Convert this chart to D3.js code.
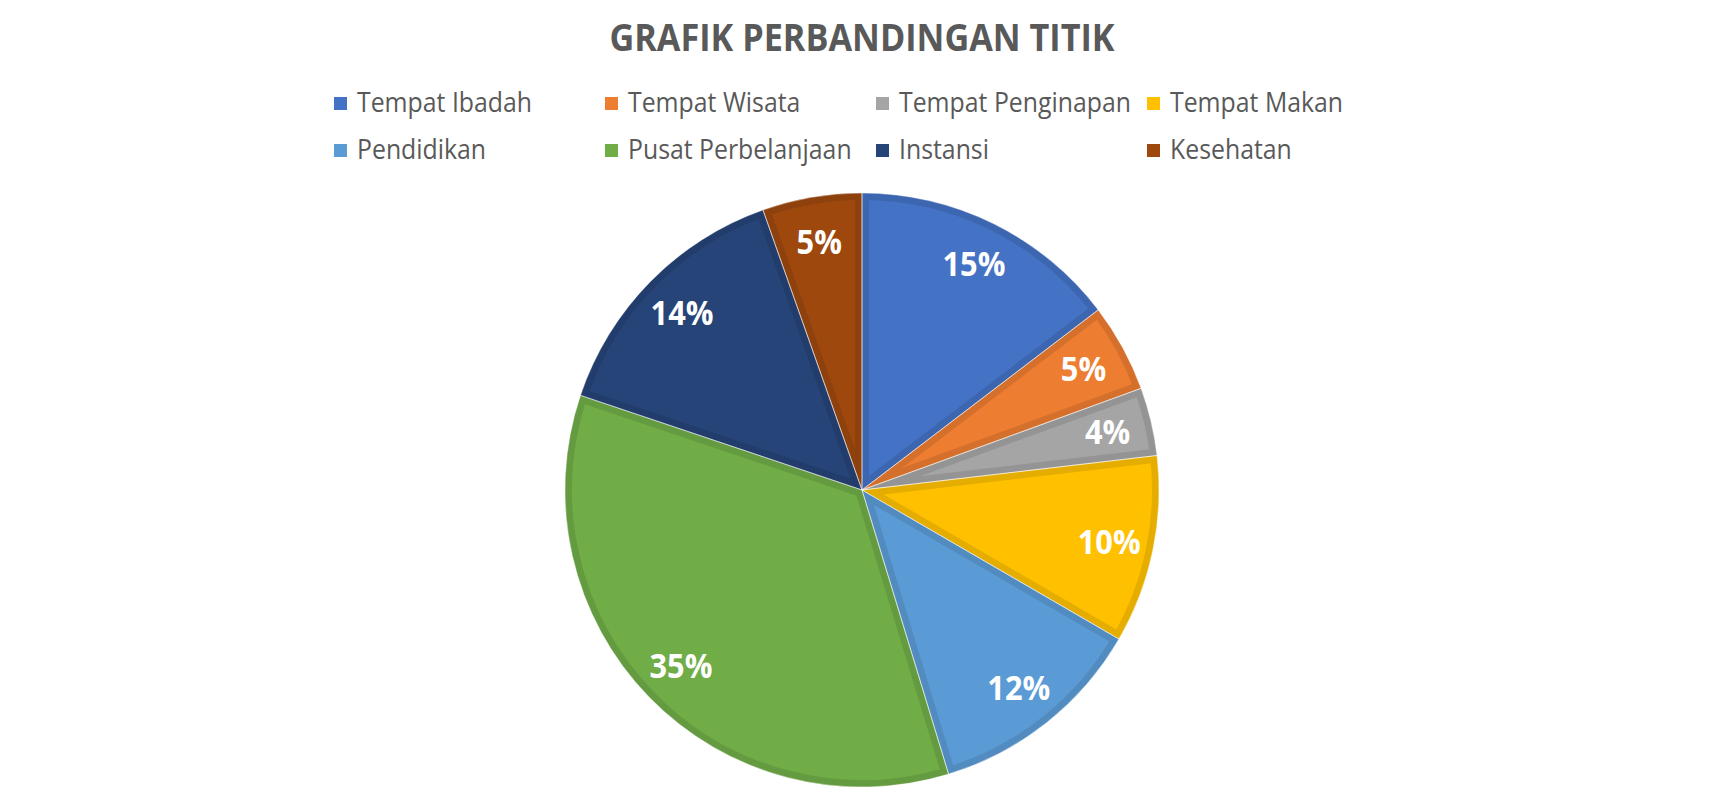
<!DOCTYPE html>
<html><head><meta charset="utf-8">
<script src="https://cdn.jsdelivr.net/npm/d3@7"></script>
<style>body{margin:0;background:#fff}</style>
</head><body>
<svg id="chart" width="1724" height="809"></svg>
<script>
const title = "GRAFIK PERBANDINGAN TITIK";
const categories = ["Tempat Ibadah","Tempat Wisata","Tempat Penginapan","Tempat Makan","Pendidikan","Pusat Perbelanjaan","Instansi","Kesehatan"];
const values = [14.6, 4.8, 3.7, 10.2, 11.9, 34.8, 14.4, 5.4];
const colors = ["#4472C4","#ED7D31","#A5A5A5","#FFC000","#5B9BD5","#70AD47","#264478","#9E480E"];

const svg = d3.select("#chart");
svg.append("rect").attr("width",1724).attr("height",809).attr("fill","#fff");
const FONT = "'Open Sans', 'Noto Sans', sans-serif";
const cx = 862, cy = 490, R = 297;
const total = d3.sum(values);
const fmt = d3.format(".0%");

function fitWidth(sel, target) {
  const w = sel.node().getComputedTextLength();
  const fs = parseFloat(sel.attr("font-size"));
  return fs * target / w;
}

// Title
const t = svg.append("text").attr("text-anchor","middle")
  .attr("transform", `translate(${cx},51) scale(1,1.1)`)
  .attr("font-family", FONT).attr("font-weight", 700).attr("font-size", 30)
  .attr("fill", "#595959").text(title);
t.attr("font-size", fitWidth(t, 505));

// Legend
const colX = d3.scaleLinear().domain([0, 3]).range([334, 1147]);
const rowY = d3.scaleLinear().domain([0, 1]).range([111, 158]);
const probe = svg.append("text").attr("font-family", FONT).attr("font-size", 20).text("Tempat Penginapan");
const legFS = fitWidth(probe, 232);
probe.remove();
const leg = svg.append("g").selectAll("g").data(categories).join("g")
  .attr("transform", (d, i) => `translate(${colX(i % 4)},${rowY(Math.floor(i / 4))})`);
leg.append("rect").attr("x", 0).attr("y", -14).attr("width", 13).attr("height", 13)
  .attr("fill", (d, i) => colors[i]);
leg.append("text").attr("transform", "translate(23,1) scale(1,1.12)").attr("font-family", FONT).attr("font-size", legFS)
  .attr("fill", "#595959").text(d => d);

// Pie
const pieData = d3.pie().sort(null).value(d => d)(values);
const arc = d3.arc().innerRadius(0).outerRadius(R);
const labelArc = d3.arc().innerRadius(R * 0.85).outerRadius(R * 0.85);
const defs = svg.append("defs");
pieData.forEach((d, i) => {
  defs.append("clipPath").attr("id", "clip" + i).append("path").attr("d", arc(d));
});
const g = svg.append("g").attr("transform", `translate(${cx},${cy})`);
g.selectAll("path.slice").data(pieData).join("path").attr("class", "slice")
  .attr("d", arc).attr("fill", (d, i) => colors[i])
  .attr("stroke", (d, i) => d3.color(colors[i]).darker(0.3))
  .attr("stroke-width", 14)
  .attr("clip-path", (d, i) => `url(#clip${i})`);
g.selectAll("path.sep").data(pieData).join("path").attr("class", "sep")
  .attr("d", arc).attr("fill", "none").attr("stroke", "#ffffff").attr("stroke-opacity", 0.45).attr("stroke-width", 1);

const lp = svg.append("text").attr("font-family", FONT).attr("font-weight", 700).attr("font-size", 30).text("15%");
const labFS = fitWidth(lp, 63);
lp.remove();
g.selectAll("text.lab").data(pieData).join("text").attr("class", "lab")
  .attr("transform", d => `translate(${labelArc.centroid(d)}) scale(1,1.12)`)
  .attr("text-anchor", "middle").attr("dy", "0.36em")
  .attr("font-family", FONT).attr("font-weight", 700).attr("font-size", labFS)
  .attr("fill", "#fff").text(d => fmt(d.value / total));
</script>
</body></html>
